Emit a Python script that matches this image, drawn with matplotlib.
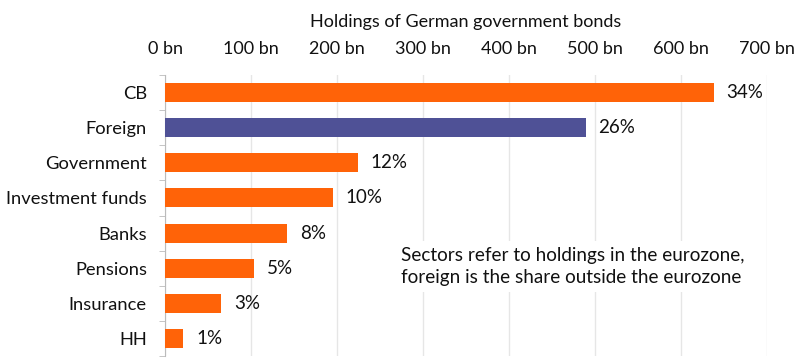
import numpy as np
import matplotlib.pyplot as plt
from matplotlib.ticker import FixedLocator

plt.rcParams['font.family'] = ['Lato', 'DejaVu Sans']

sectors = ['CB', 'Foreign', 'Government', 'Investment funds', 'Banks', 'Pensions', 'Insurance', 'HH']
holdings = [638, 489, 224, 195, 142, 103, 65, 21]
shares = ['34%', '26%', '12%', '10%', '8%', '5%', '3%', '1%']
colors = ['#FF6308', '#4F5196', '#FF6308', '#FF6308', '#FF6308', '#FF6308', '#FF6308', '#FF6308']

fig = plt.figure(figsize=(8, 3.59), dpi=100)
ax = fig.add_axes([165 / 800, 3 / 359, (767 - 165) / 800, (356 - 75) / 359])

y = np.arange(len(sectors))
ax.barh(y, holdings, height=0.54, color=colors, zorder=3)
for yi, v, s in zip(y, holdings, shares):
    ax.text(v + 15, yi, s, va='center', ha='left', fontsize=13.5, color='#111111')

ax.set_xlim(0, 700)
ax.set_ylim(len(sectors) - 0.5, -0.5)
ax.set_yticks(y)
ax.set_yticklabels(sectors, fontsize=13.2, color='#111111')
ax.yaxis.set_minor_locator(FixedLocator(np.arange(-0.5, len(sectors), 1)))
ax.tick_params(axis='y', which='major', length=0, pad=13)
ax.tick_params(axis='y', which='minor', length=4, color='#bbbbbb')

ax.xaxis.tick_top()
ax.set_xticks(np.arange(0, 701, 100))
ax.set_xticklabels([f'{v} bn' for v in range(0, 701, 100)], fontsize=13, color='#111111')
ax.tick_params(axis='x', length=0, pad=13)
ax.xaxis.set_label_position('top')
ax.set_xlabel('Holdings of German government bonds', fontsize=13, labelpad=10, color='#111111')

ax.grid(axis='x', color='#e6e6e6', linewidth=1, zorder=0)
for side in ['top', 'right', 'bottom']:
    ax.spines[side].set_visible(False)
ax.spines['left'].set_color('#bbbbbb')

ax.text(274, 4.95, 'Sectors refer to holdings in the eurozone,\nforeign is the share outside the eurozone',
        fontsize=13.6, va='center', ha='left', color='#111111', linespacing=1.4,
        bbox=dict(facecolor='white', edgecolor='none', pad=4), zorder=4)

fig.savefig('out.png', dpi=100)
